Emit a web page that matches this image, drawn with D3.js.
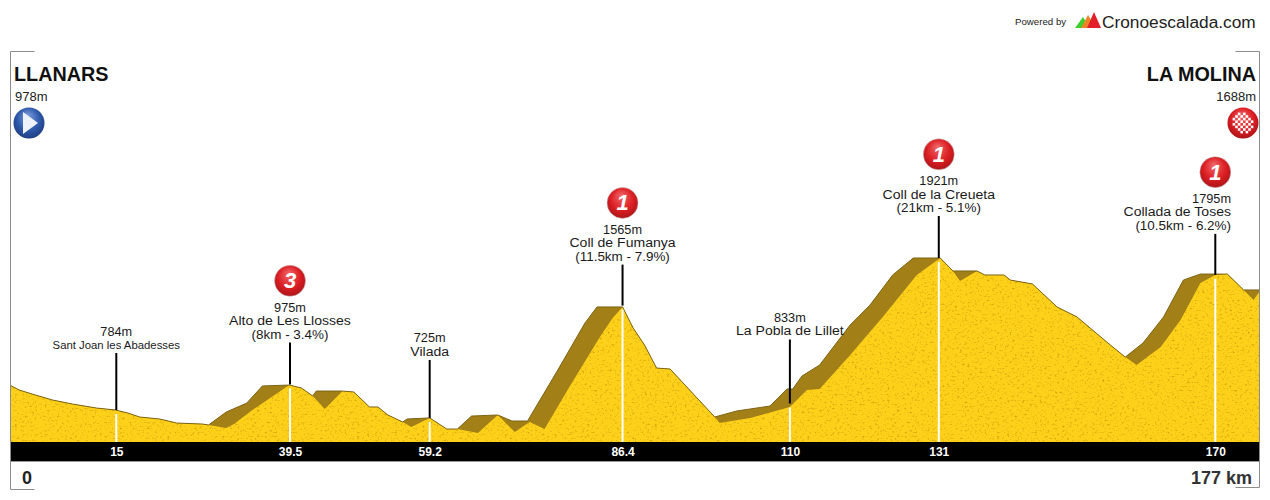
<!DOCTYPE html>
<html><head><meta charset="utf-8">
<script src="https://cdn.jsdelivr.net/npm/d3@7/dist/d3.min.js"></script>
<style>html,body{margin:0;padding:0;background:#fff}svg{display:block}text{font-family:"Liberation Sans",Arial,sans-serif}</style>
</head><body><svg id="c" width="1270" height="500"></svg>
<script>
// Outer profile (includes the shaded climb faces)
const outerKm=[0,1.3,3.1,6,8.8,12.2,14.9,16.6,18.3,21.1,23.5,27.2,28,30.5,33.4,35.6,39.4,41.1,42.7,43.2,46.9,48.5,50.7,51.9,53.3,55.4,56,59.2,61.6,63.1,65.1,68.8,70.8,73,77.1,81.1,82.8,86.4,87.9,89.5,91.2,93.1,99.4,102.5,107.2,109.6,110.4,111.7,114.2,118.5,121.3,124.5,127.4,131.2,133,136.4,137.5,140.2,141.1,144.2,147.7,150.5,155.2,157.3,159.8,162.7,165.5,167.9,171.7,174,176.2];
const outerElev=[970,934,904,859,829,799,784,762,732,717,687,679,672,769,836,964,971,949,889,926,926,919,807,807,747,694,717,725,642,642,739,747,702,702,1068,1435,1555,1555,1397,1270,1098,1091,732,777,814,941,941,1038,1121,1420,1569,1794,1921,1921,1824,1824,1794,1794,1756,1727,1554,1480,1270,1180,1285,1480,1756,1801,1801,1682,1682];
// Lit surface (lower edge of the shaded faces)
const litKm=[0,1.3,3.1,6,8.8,12.2,14.9,16.6,18.3,21.1,23.5,27.2,28,30.5,31.6,34.2,39.4,41.1,42.7,44.4,46.5,46.9,48.5,50.7,51.9,53.3,55.4,56.6,59.2,61.6,63.1,66,68.8,71.2,73.3,75.4,78.9,83.2,85,86.4,87.9,89.5,91.2,93.1,99.4,100.1,104.4,110,112.4,114.2,118.5,123.1,127.9,131.2,133,134,136.4,137.5,140.2,141.1,144.2,147.7,150.5,155.2,157.3,158.9,162.3,165.1,167.9,170,171.7,174,175.4,176.2];
const litElev=[970,934,904,859,829,799,784,762,732,717,687,679,672,649,679,784,971,949,889,792,904,926,919,807,807,747,694,657,725,642,642,612,747,619,694,642,956,1330,1472,1555,1397,1270,1098,1091,732,687,724,806,934,941,1195,1480,1794,1921,1824,1749,1824,1794,1794,1756,1727,1554,1480,1270,1180,1121,1255,1457,1734,1794,1801,1682,1607,1667];
// Waypoints
const wpKm=[15,39.5,59.2,86.4,110,131,170];
const wpElev=[784,975,725,1565,833,1921,1795];
const wpNames=["Sant Joan les Abadesses","Alto de Les Llosses","Vilada","Coll de Fumanya","La Pobla de Lillet","Coll de la Creueta","Collada de Toses"];
const wpDetails=["","(8km - 3.4%)","","(11.5km - 7.9%)","","(21km - 5.1%)","(10.5km - 6.2%)"];
const wpCat=["","3","","1","","1","1"];
const kmTicks=[15,39.5,59.2,86.4,110,131,170];
const startName="LLANARS", startElev="978m", endName="LA MOLINA", endElev="1688m", totalKm="177 km";

// layout
const poleLen=[57,42,58,41,64,42,41];
const svg=d3.select("#c");
const x=d3.scaleLinear().domain([15,170]).range([116.3,1215.3]);
const y=d3.scaleLinear().domain([545,1921]).range([442,258]);
const defs=svg.append("defs");
defs.append("clipPath").attr("id","plot").append("rect").attr("x",11).attr("y",0).attr("width",1248).attr("height",442);

const tex=defs.append("filter").attr("id","tex").attr("x",0).attr("y",0).attr("width",1).attr("height",1).attr("color-interpolation-filters","sRGB");
tex.append("feTurbulence").attr("type","fractalNoise").attr("baseFrequency","0.4 0.5").attr("numOctaves",3).attr("seed",7).attr("result","n");
tex.append("feColorMatrix").attr("in","n").attr("type","matrix").attr("values","0 0 0 0 0.78  0 0 0 0 0.58  0 0 0 0 0.05  2.6 0 0 0 -1.45").attr("result","s");
tex.append("feComposite").attr("in","s").attr("in2","SourceAlpha").attr("operator","in").attr("result","sc");
const fm=tex.append("feMerge");fm.append("feMergeNode").attr("in","SourceGraphic");fm.append("feMergeNode").attr("in","sc");

function grad(id,c0,c1,c2){const g=defs.append("radialGradient").attr("id",id).attr("cx","50%").attr("cy","45%").attr("r","60%").attr("fx","45%").attr("fy","25%");
 g.append("stop").attr("offset","0").attr("stop-color",c0);g.append("stop").attr("offset","0.6").attr("stop-color",c1);g.append("stop").attr("offset","1").attr("stop-color",c2);}
grad("gr","#f0686a","#dc1f24","#a51216");
grad("gb","#7d9fdc","#2f59ab","#1c3a7c");

const g=svg.append("g").attr("clip-path","url(#plot)");
const area=d3.area().x(d=>x(d[0])).y0(y(545)).y1(d=>y(d[1]));
const line=d3.line().x(d=>x(d[0])).y(d=>y(d[1]));
const outer=d3.zip(outerKm,outerElev), lit=d3.zip(litKm,litElev);
g.append("path").attr("d",area(outer)).attr("fill","#a37f17");
g.append("path").attr("d",area(lit)).attr("fill","#fdd11a").attr("filter","url(#tex)");
g.append("path").attr("d",line(outer)).attr("fill","none").attr("stroke","#7d6414").attr("stroke-width",1);

// km bar
svg.append("rect").attr("x",11).attr("y",442).attr("width",1248).attr("height",19).attr("fill","#000");
svg.append("line").attr("x1",11).attr("x2",1259).attr("y1",461.5).attr("y2",461.5).attr("stroke","#999");
const ax=svg.append("g").attr("transform","translate(0,442)").call(d3.axisBottom(x).tickValues(kmTicks).tickSize(0).tickPadding(5).tickFormat(d=>d));
ax.select(".domain").remove();
ax.selectAll("text").attr("fill","#fff").attr("font-size",12).attr("font-weight","bold").style("font-family",'"Liberation Sans",Arial,sans-serif');

// frame corners
const fr=svg.append("g").attr("fill","none").attr("stroke","#8c8c8c").attr("stroke-width",1);
fr.append("path").attr("d","M34.5,51.5H10.5V489.5H34.5");
fr.append("path").attr("d","M1235.5,51.5H1259.5V487.5H1235.5");

// waypoints
const wp=svg.append("g");
wpKm.forEach((km,i)=>{
  const px=x(km), py=y(wpElev[i]), top=py-poleLen[i];
  wp.append("line").attr("x1",px).attr("x2",px).attr("y1",py+4).attr("y2",442).attr("stroke","#fff").attr("stroke-width",2);
  wp.append("line").attr("x1",px).attr("x2",px).attr("y1",top).attr("y2",py).attr("stroke","#000").attr("stroke-width",2);
  const lines=[wpElev[i]+"m",wpNames[i]];
  if(wpDetails[i])lines.push(wpDetails[i]);
  const by=top-4;
  const rightEdge=i===6;
  lines.slice().reverse().forEach((t,j)=>{
    const isElev=j===lines.length-1, isDet=wpDetails[i]&&j===0;
    const small=i===0&&j===0;
    const tx=wp.append("text").attr("x",rightEdge?1231:px).attr("y",by-j*13.5).attr("text-anchor",rightEdge?"end":"middle").attr("fill","#1a1a1a")
      .attr("font-size",small?10.5:12).text(t);
    const stretch=small?1.08:isElev?1.06:isDet?1.12:1.17;
    tx.attr("textLength",tx.node().getComputedTextLength()*stretch).attr("lengthAdjust","spacingAndGlyphs");
  });
  if(wpCat[i]){
    const c=wp.append("g").attr("transform",`translate(${px},${by-57.7})`);
    c.append("circle").attr("r",15.5).attr("fill","url(#gr)").attr("stroke","#c9c9c9").attr("stroke-width",0.5);
    c.append("text").attr("y",7.5).attr("text-anchor","middle").attr("fill","#fff").attr("font-size",22).attr("font-weight","bold").attr("font-style","italic").text(wpCat[i]);
  }
});

// start / finish
svg.append("text").attr("x",14).attr("y",81).attr("font-size",19.8).attr("font-weight","bold").attr("fill","#111").text(startName);
svg.append("text").attr("x",15).attr("y",101).attr("font-size",13).attr("fill","#222").text(startElev);
const st=svg.append("g").attr("transform","translate(29,123)");
st.append("circle").attr("r",15.5).attr("fill","url(#gb)");
st.append("path").attr("d","M-6,-11L9,0L-6,11Z").attr("fill","#eef2fa");
svg.append("text").attr("x",1256).attr("y",81).attr("text-anchor","end").attr("font-size",19.8).attr("font-weight","bold").attr("fill","#111").text(endName);
svg.append("text").attr("x",1256).attr("y",101).attr("text-anchor","end").attr("font-size",13).attr("fill","#222").text(endElev);
const fi=svg.append("g").attr("transform","translate(1243,123)");
fi.append("circle").attr("r",15.5).attr("fill","url(#gr)");
d3.range(-4,4).forEach(a=>d3.range(-4,4).forEach(b=>{
  if((a+b)%2===0&&Math.hypot(a+.5,b+.5)<4.1)fi.append("rect").attr("x",a*2.6).attr("y",b*2.6).attr("width",2.6).attr("height",2.6).attr("fill","#fff");
}));

// bottom labels
svg.append("text").attr("x",27).attr("y",484).attr("text-anchor","middle").attr("font-size",18).attr("font-weight","bold").attr("fill","#222").text("0");
svg.append("text").attr("x",1252).attr("y",484).attr("text-anchor","end").attr("font-size",18).attr("font-weight","bold").attr("fill","#333").text(totalKm);

// credit
svg.append("text").attr("x",1015).attr("y",25).attr("font-size",9.7).attr("fill","#222").text("Powered by");
const lg=svg.append("g");
lg.append("path").attr("d","M1075,28L1083,17L1090,28Z").attr("fill","#3ecf2f");
lg.append("path").attr("d","M1081,28L1088,15L1096,28Z").attr("fill","#f0832a");
lg.append("path").attr("d","M1087,28L1094,12L1101,28Z").attr("fill","#e3202a");
svg.append("text").attr("x",1102).attr("y",28).attr("font-size",17.3).attr("fill","#222").text("Cronoescalada.com");
</script></body></html>
